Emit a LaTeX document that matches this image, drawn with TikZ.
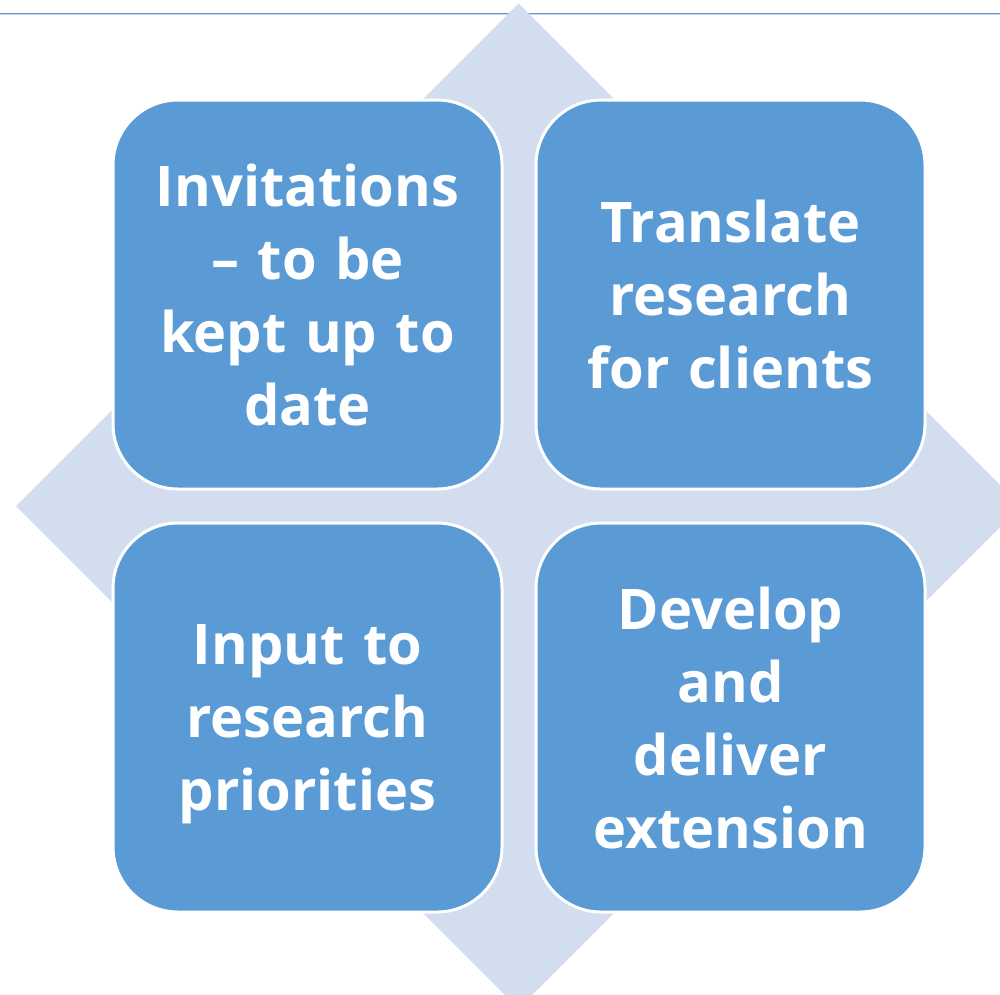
\documentclass[tikz,border=0pt]{standalone}
\usepackage{fontspec}
\newfontfamily\boxfont{Open Sans}
\definecolor{boxblue}{HTML}{5B9BD5}
\definecolor{diamondblue}{HTML}{D2DEEF}
\definecolor{ruleblue}{HTML}{6E93C4}
\definecolor{rulelight}{HTML}{C5D7EE}
\newcommand{\nodepth}[1]{\raisebox{0pt}[\height][0pt]{#1}}
\begin{document}
\begin{tikzpicture}[x=1pt,y=-1pt,
  quad/.style={draw=white, line width=3pt, fill=boxblue, rounded corners=65pt,
    minimum width=389pt, minimum height=389pt, inner sep=0pt,
    text=white, align=center, text width=375pt,
    font=\boxfont\bfseries\fontsize{56}{73}\selectfont}]
\useasboundingbox (0,0) rectangle (1000,994);
\clip (0,0) rectangle (1000,994);
\draw[rulelight, line width=1.2pt] (0,14.8) -- (1000,14.8);
\draw[ruleblue, line width=1.3pt] (0,13.3) -- (1000,13.3);
\fill[diamondblue] (518.5,3.5) -- (1021,506) -- (518.5,1008.5) -- (16,506) -- cycle;
\node[quad] (tl) at (307.5,294.5) {Invitations\\– to be\\kept up to\\date};
\node[quad] (tr) at (730.5,294.5) {Translate\\research\\for clients};
\node[quad] (bl) at (307.5,717.5) {Input to\\research\\\nodepth{priorities}};
\node[quad] (br) at (730.5,717.5) {Develop\\and\\deliver\\extension};
\end{tikzpicture}
\end{document}
